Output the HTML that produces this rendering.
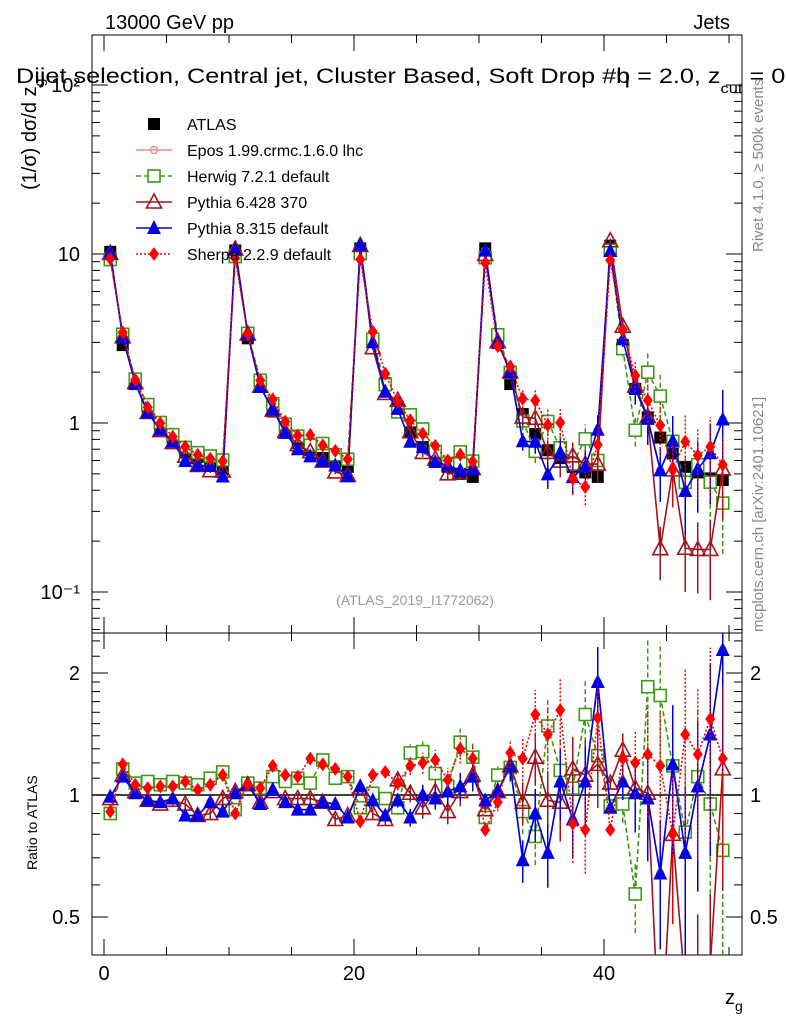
<!DOCTYPE html>
<html><head><meta charset="utf-8">
<style>
html,body{margin:0;padding:0;background:#fff;width:786px;height:1024px;overflow:hidden;}
svg{display:block;font-family:"Liberation Sans",sans-serif;overflow:hidden;}
</style></head>
<body>
<svg id="chart" width="786" height="1024" xmlns="http://www.w3.org/2000/svg">
<defs>
<clipPath id="clipMain"><rect x="92" y="35" width="650" height="598"/></clipPath>
<clipPath id="clipRatio"><rect x="92" y="633" width="650" height="322"/></clipPath>
<clipPath id="clipPage"><rect x="0" y="0" width="786" height="1024"/></clipPath>
</defs>
<text x="105" y="29" font-size="20">13000 GeV pp</text>
<text x="730" y="29" font-size="20" text-anchor="end">Jets</text>
<g clip-path="url(#clipPage)">
<text transform="translate(16,83) scale(1.15,1)" x="0" y="0" font-size="21.5" textLength="675" lengthAdjust="spacingAndGlyphs">Dijet selection, Central jet, Cluster Based, Soft Drop #b<tspan dx="-12">η</tspan> = 2.0, z<tspan dy="10" font-size="14">cut</tspan><tspan dy="-10"> = 0.</tspan></text>
</g>
<text transform="translate(36,190) rotate(-90)" font-size="20">(1/σ) dσ/d z<tspan dy="8" font-size="14">g</tspan></text>
<text transform="translate(37,870) rotate(-90)" font-size="14">Ratio to ATLAS</text>
<text transform="translate(763,252) rotate(-90)" font-size="15" fill="#888">Rivet 4.1.0, ≥ 500k events</text>
<text transform="translate(763,632) rotate(-90)" font-size="15" fill="#888">mcplots.cern.ch [arXiv:2401.10621]</text>
<text x="415" y="605" font-size="14" fill="#999" text-anchor="middle">(ATLAS_2019_I1772062)</text>
<text x="725" y="1004" font-size="20">z<tspan dy="7" font-size="14">g</tspan></text>
<g id="axes"></g>
<g id="mainMarks" clip-path="url(#clipMain)"></g>
<g id="ratioMarks" clip-path="url(#clipRatio)"></g>
<g id="legend"></g>
</svg>
<script>
const bins = Array.from({length:50},(_, i)=>i+0.5);
const atlasVals = [10.3,2.89,1.70,1.19,0.95,0.79,0.67,0.63,0.58,0.53,
 10.5,3.17,1.72,1.17,0.91,0.76,0.69,0.62,0.59,0.55,
 10.8,3.1,1.72,1.25,0.88,0.72,0.60,0.55,0.50,0.48,
 10.8,2.97,1.70,1.13,0.86,0.69,0.62,0.55,0.51,0.48,
 11.2,2.9,1.59,1.08,0.82,0.66,0.55,0.51,0.47,0.46];
const mcRelErr = [0.01,0.02,0.02,0.02,0.02,0.03,0.03,0.03,0.03,0.03,
 0.01,0.02,0.02,0.02,0.02,0.03,0.03,0.03,0.03,0.03,
 0.01,0.03,0.03,0.04,0.05,0.06,0.06,0.07,0.08,0.08,
 0.02,0.05,0.08,0.12,0.15,0.18,0.2,0.2,0.22,0.22,
 0.03,0.1,0.2,0.3,0.35,0.4,0.45,0.45,0.5,0.5];
const eposRatio = [0.99,1.11,1.01,0.97,0.96,0.98,0.89,0.89,0.96,0.91,
 1.01,1.06,0.95,1.03,0.96,0.92,0.92,0.96,0.95,0.88,
 1.05,0.97,0.89,0.97,0.88,1.0,0.98,1.02,1.05,1.11,
 0.97,1.02,1.17,0.69,0.90,0.72,1.08,0.87,1.08,1.9,
 0.93,1.08,1.0,0.98,0.64,1.19,0.72,1.05,1.4,2.28];
const herwigRatio = [0.90,1.16,1.07,1.08,1.06,1.08,1.07,1.06,1.10,1.14,
 0.92,1.07,1.04,1.11,1.08,1.10,1.07,1.22,1.10,1.11,
 0.93,1.01,0.98,0.93,1.27,1.28,1.13,1.05,1.35,1.24,
 0.88,1.12,1.17,0.91,0.79,1.48,1.15,1.04,1.58,1.25,
 0.94,0.95,0.57,1.85,1.76,1.18,0.81,1.11,0.95,0.73];
const py6Ratio = [0.98,1.12,1.02,0.97,0.95,0.97,0.95,0.89,0.90,0.98,
 1.02,1.06,0.96,1.02,0.98,0.98,0.98,0.96,0.87,0.89,
 1.04,0.90,0.87,1.09,1.01,0.93,1.02,0.91,1.02,1.12,
 0.92,1.02,1.18,0.96,1.24,0.97,0.96,1.16,1.12,1.19,
 1.07,1.29,1.04,1.01,0.22,0.80,0.33,0.35,0.38,1.16];
const py8Ratio = [0.99,1.11,1.01,0.97,0.96,0.98,0.89,0.89,0.96,0.91,
 1.01,1.06,0.95,1.03,0.96,0.92,0.92,0.96,0.95,0.88,
 1.05,0.97,0.89,0.97,0.88,1.0,0.98,1.02,1.05,1.11,
 0.97,1.02,1.18,0.69,0.90,0.72,1.08,0.87,1.08,1.90,
 0.93,1.08,1.01,0.98,0.64,1.19,0.72,1.05,1.41,2.28];
const sherpaRatio = [0.91,1.19,1.06,1.04,1.05,1.05,1.08,1.03,1.06,1.12,
 0.90,1.06,1.04,1.18,1.12,1.11,1.23,1.19,1.16,1.11,
 0.86,1.12,1.14,1.07,1.18,1.20,1.22,1.09,1.30,1.23,
 0.82,0.96,1.27,1.23,1.58,1.41,1.62,0.85,0.82,1.55,
 0.82,1.23,1.20,1.26,1.18,0.80,1.41,1.26,1.54,1.23];
const yTickLabels = ["10⁻¹","1","10","10²"];
const ratioTickVals = [0.5,1,2];
const xTickVals = [0,20,40];

const NS="http://www.w3.org/2000/svg";
const X0=92,X1=742,YT=35,YB=633,RB=955;
const xmin=-0.96,xmax=51.04;
function xs(v){return X0+(v-xmin)/(xmax-xmin)*(X1-X0);}
function ys(v){return 254-169*Math.log10(v/10);}
function yr(v){return 795-122*Math.log2(v);}
function mk(tag,attrs,parent){const e=document.createElementNS(NS,tag);for(const k in attrs)e.setAttribute(k,attrs[k]);parent.appendChild(e);return e;}
function clampY(y,lo,hi){return Math.max(lo,Math.min(hi,y));}
// build path with segments clipped to [lo,hi] in y
function clippedPath(pts,lo,hi){
  let d='';
  for(let i=0;i<pts.length-1;i++){
    let [x1,y1]=pts[i],[x2,y2]=pts[i+1];
    if((y1>hi&&y2>hi)||(y1<lo&&y2<lo))continue;
    const cut=(xa,ya,xb,yb,yl)=>[xa+(xb-xa)*(yl-ya)/(yb-ya),yl];
    if(y1>hi)[x1,y1]=cut(x1,y1,x2,y2,hi); else if(y1<lo)[x1,y1]=cut(x1,y1,x2,y2,lo);
    if(y2>hi)[x2,y2]=cut(pts[i][0],pts[i][1],x2,y2,hi); else if(y2<lo)[x2,y2]=cut(pts[i][0],pts[i][1],x2,y2,lo);
    d+=`M${x1.toFixed(2)},${y1.toFixed(2)}L${x2.toFixed(2)},${y2.toFixed(2)}`;
  }
  return d;
}
const axes=document.getElementById('axes');
const mainG=document.getElementById('mainMarks');
const ratioG=document.getElementById('ratioMarks');
const legG=document.getElementById('legend');

let f1=mk('rect',{x:X0,y:YT,width:X1-X0,height:YB-YT,fill:'none',stroke:'#000','stroke-width':1},axes);


let f2=mk('rect',{x:X0,y:YB,width:X1-X0,height:RB-YB,fill:'none',stroke:'#000','stroke-width':1},axes);



for(let v=0;v<=50;v+=5){
  const x=xs(v),L=(v%20===0)?16:8;
  [[YT,1],[YB,-1],[YB,1],[RB,-1]].forEach(([y0,d])=>{
    const t=mk('line',{x1:x,x2:x,y1:y0,y2:y0+d*L,stroke:'#000'},axes);
    
    
  });
}
xTickVals.forEach(v=>{
  const t=mk('text',{x:xs(v),y:980,'font-size':20,'text-anchor':'middle'},axes);
  t.textContent=v;
  
  
});
for(let e=-2;e<=2;e++){
  for(let m=1;m<10;m++){
    const v=m*Math.pow(10,e);const y=ys(v);
    if(y<YT||y>YB)continue;
    const L=m===1?16:8;
    const a=mk('line',{x1:X0,x2:X0+L,y1:y,y2:y,stroke:'#000'},axes);
    
    
    const b=mk('line',{x1:X1,x2:X1-L,y1:y,y2:y,stroke:'#000'},axes);
    
    
  }
}
yTickLabels.forEach((lab,i)=>{
  const y=ys(Math.pow(10,i-1));
  const t=mk('text',{x:80,y:y+7,'font-size':20,'text-anchor':'end'},axes);
  t.textContent=lab;
  
  
});
const rMinor=[0.5,0.6,0.7,0.8,0.9,1,1.1,1.2,1.3,1.4,1.5,1.6,1.7,1.8,1.9,2,2.2,2.4];
rMinor.forEach(v=>{
  const y=yr(v);const L=ratioTickVals.includes(v)?16:8;
  const a=mk('line',{x1:X0,x2:X0+L,y1:y,y2:y,stroke:'#000'},axes);
  
  
  const b=mk('line',{x1:X1,x2:X1-L,y1:y,y2:y,stroke:'#000'},axes);
  
  
});
ratioTickVals.forEach(v=>{
  const l=mk('text',{x:80,y:yr(v)+7,'font-size':20,'text-anchor':'end'},axes);
  l.textContent=v;
  
  
  const r=mk('text',{x:750,y:yr(v)+7,'font-size':20},axes);
  r.textContent=v;
  
  
});
const one=mk('line',{x1:X0,x2:X1,y1:yr(1),y2:yr(1),stroke:'#000','stroke-width':1.5},ratioG);



function marker(g,type,x,y,col){
  let e;
  if(type==='sq') e=mk('rect',{x:x-6,y:y-6,width:12,height:12,fill:'#000'},g);
  else if(type==='osq') e=mk('rect',{x:x-6,y:y-6,width:12,height:12,fill:'#fff',stroke:col,'stroke-width':1.6},g);
  else if(type==='otri') e=mk('polygon',{points:`${x},${y-8} ${x-7.5},${y+6} ${x+7.5},${y+6}`,fill:'none',stroke:col,'stroke-width':1.6},g);
  else if(type==='tri') e=mk('polygon',{points:`${x},${y-8} ${x-7},${y+6} ${x+7},${y+6}`,fill:col},g);
  else if(type==='dia') e=mk('polygon',{points:`${x},${y-7} ${x-5},${y} ${x},${y+7} ${x+5},${y}`,fill:col},g);
  else if(type==='circ') e=mk('circle',{cx:x,cy:y,r:3.5,fill:'none',stroke:col,'stroke-width':1.5},g);
  return e;
}
const series=[
 {name:'epos',ratio:eposRatio,col:'#f28c8c',type:'circ',dash:''},
 {name:'herwig',ratio:herwigRatio,col:'#3e9a13',type:'osq',dash:'5,3'},
 {name:'pythia6',ratio:py6Ratio,col:'#a0141e',type:'otri',dash:''},
 {name:'pythia8',ratio:py8Ratio,col:'#0000e6',type:'tri',dash:''},
 {name:'sherpa',ratio:sherpaRatio,col:'#ff0000',type:'dia',dash:'2,2'}
];
bins.forEach((b,i)=>{
  const m=marker(mainG,'sq',xs(b),ys(atlasVals[i]),'#000');
  
  
});
series.forEach(s=>{
  const vals=s.ratio.map((r,i)=>r*atlasVals[i]);
  const p1=mk('path',{d:clippedPath(bins.map((b,i)=>[xs(b),ys(vals[i])]),YT,YB),fill:'none',stroke:s.col,'stroke-width':1.6,'stroke-dasharray':s.dash},mainG);
  
  
  const p2=mk('path',{d:clippedPath(bins.map((b,i)=>[xs(b),yr(s.ratio[i])]),YB,RB),fill:'none',stroke:s.col,'stroke-width':1.6,'stroke-dasharray':s.dash},ratioG);
  
  
  bins.forEach((b,i)=>{
    const x=xs(b),e=mcRelErr[i];
    if(s.name!=='epos'){
      const lo=Math.max(vals[i]*(1-e),1e-3),hi=vals[i]*(1+e);
      const eb=mk('line',{x1:x,x2:x,y1:clampY(ys(lo),YT,YB),y2:clampY(ys(hi),YT,YB),stroke:s.col,'stroke-width':1.5,'stroke-dasharray':s.dash},mainG);
      
      
      const rlo=Math.max(s.ratio[i]*(1-e),1e-3),rhi=s.ratio[i]*(1+e);
      const rb=mk('line',{x1:x,x2:x,y1:clampY(yr(rlo),YB,RB),y2:clampY(yr(rhi),YB,RB),stroke:s.col,'stroke-width':1.5,'stroke-dasharray':s.dash},ratioG);
      
      
    }
    const my=ys(vals[i]);
    if(my>YT-10&&my<YB+10){
      const a=marker(mainG,s.type,x,my,s.col);
      
      
    }
    const ry=yr(s.ratio[i]);
    if(ry>YB-10&&ry<RB+10){
      const c=marker(ratioG,s.type,x,ry,s.col);
      
      
    }
  });
});
const legNames=['ATLAS','Epos 1.99.crmc.1.6.0 lhc','Herwig 7.2.1 default','Pythia 6.428 370','Pythia 8.315 default','Sherpa 2.2.9 default'];
const legTypes=['sq','circ','osq','otri','tri','dia'];
const legCols=['#000','#f28c8c','#3e9a13','#a0141e','#0000e6','#ff0000'];
const legDash=['','','5,3','','','2,2'];
legNames.forEach((n,i)=>{
  const y=124+i*26;
  const g=mk('g',{},legG);
  
  
  if(i>0)mk('line',{x1:136,x2:172,y1:y,y2:y,stroke:legCols[i],'stroke-width':1.6,'stroke-dasharray':legDash[i]},g);
  marker(g,legTypes[i],154,y,legCols[i]);
  const t=mk('text',{x:187,y:y+6,'font-size':16},g);
  t.textContent=n;
});
</script>
</body></html>
